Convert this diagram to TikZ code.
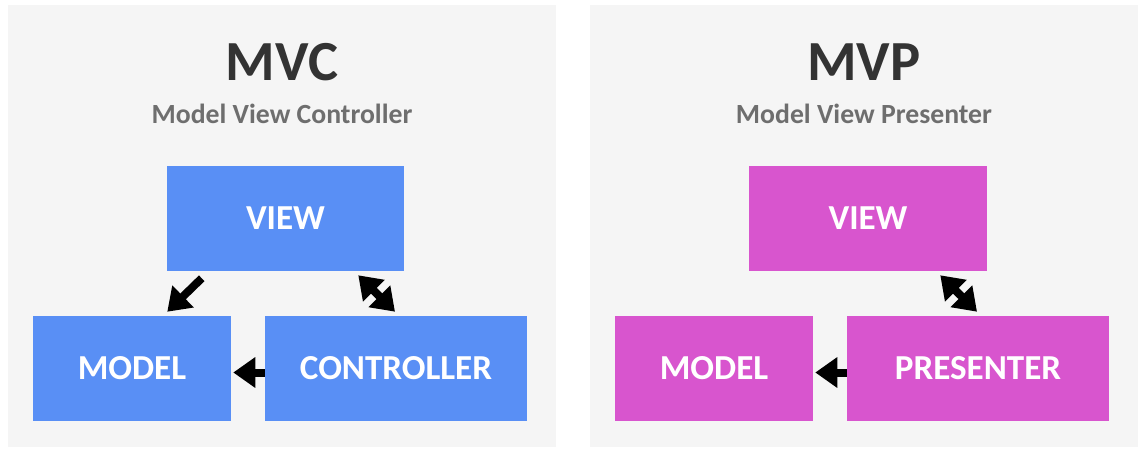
\documentclass[tikz,border=0pt]{standalone}
\usepackage{fontspec}
\setmainfont{Carlito}
\usetikzlibrary{arrows.meta}

\definecolor{mvcblue}{RGB}{89,143,245}
\definecolor{mvppink}{RGB}{216,85,206}
\definecolor{panelgrey}{RGB}{245,245,245}
\definecolor{titlegrey}{RGB}{51,51,51}
\definecolor{subgrey}{RGB}{110,110,110}

\begin{document}
\begin{tikzpicture}[
    x=0.75pt, y=-0.75pt,
    panel/.style={
        fill=panelgrey,
        draw=none
    },
    title/.style={
        anchor=base,
        text=titlegrey,
        font=\fontsize{42.5}{46}\selectfont\bfseries
    },
    subtitle/.style={
        anchor=base,
        text=subgrey,
        font=\fontsize{20.8}{24}\selectfont\bfseries
    },
    box/.style={
        rectangle,
        minimum height=78.75pt,
        text centered,
        text=white,
        font=\fontsize{26.3}{30}\selectfont\bfseries,
        inner sep=0pt
    },
    arrow/.style={
        -{Triangle[width=22pt,length=16.5pt]},
        line width=6pt,
        color=black
    },
    twoway/.style={
        {Triangle[width=22pt,length=16.5pt]}-{Triangle[width=22pt,length=16.5pt]},
        line width=6pt,
        color=black
    }
]

% Background and panels
\fill[white] (0,0) rectangle (1148,454);
\useasboundingbox (0,0) rectangle (1148,454);
\fill[panel] (8,5) rectangle (556,447);
\fill[panel] (590,5) rectangle (1138,447);

% MVC
\node[title] (mvctitle) at (282,80) {MVC};
\node[subtitle] (mvcsub) at (282,123) {Model View Controller};

\node[box, fill=mvcblue, minimum width=177.75pt] (mvcview) at (285.5,218.5) {VIEW};
\node[box, fill=mvcblue, minimum width=148.5pt] (mvcmodel) at (132,368.5) {MODEL};
\node[box, fill=mvcblue, minimum width=196.5pt] (mvccontroller) at (396,368.5) {CONTROLLER};

\draw[arrow] ([shift={(35,7)}]mvcview.south west) -- ([shift={(-64,-4)}]mvcmodel.north east);
\draw[twoway] ([shift={(-46,4)}]mvcview.south east) -- ([shift={(-1,-4)}]mvccontroller.north);
\draw[arrow, shorten >=1.5pt] ([yshift=-3pt]mvccontroller.west) -- ([yshift=-3pt]mvcmodel.east);

% MVP
\node[title] (mvptitle) at (864,80) {MVP};
\node[subtitle] (mvpsub) at (864,123) {Model View Presenter};

\node[box, fill=mvppink, minimum width=178.5pt] (mvpview) at (868,218.5) {VIEW};
\node[box, fill=mvppink, minimum width=148.5pt] (mvpmodel) at (714,368.5) {MODEL};
\node[box, fill=mvppink, minimum width=196.5pt] (mvppresenter) at (978,368.5) {PRESENTER};

\draw[twoway] ([shift={(-47,4)}]mvpview.south east) -- ([shift={(-1,-4)}]mvppresenter.north);
\draw[arrow, shorten >=1.5pt] ([yshift=-3pt]mvppresenter.west) -- ([yshift=-3pt]mvpmodel.east);

\end{tikzpicture}
\end{document}
